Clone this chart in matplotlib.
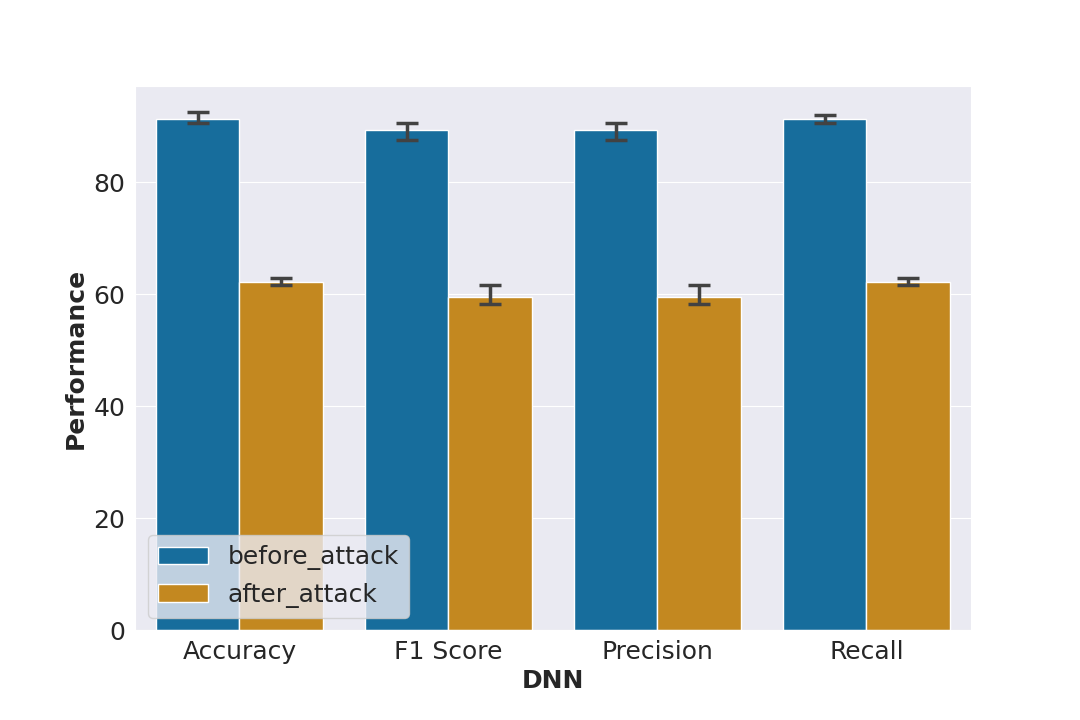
import numpy as np
import matplotlib
matplotlib.use("Agg")
import matplotlib.pyplot as plt
import seaborn as sns

metrics = ["Accuracy", "F1 Score", "Precision", "Recall"]
series = ["before_attack", "after_attack"]
before_mean = [91.36, 89.4, 89.4, 91.36]
before_low = [90.54, 87.5, 87.5, 90.54]
before_high = [92.5, 90.54, 90.54, 92.1]
after_mean = [62.25, 59.5, 59.5, 62.25]
after_low = [61.6, 58.2, 58.2, 61.6]
after_high = [62.86, 61.6, 61.6, 62.86]

sns.set_style("darkgrid")
plt.rcParams['font.family'] = ['DejaVu Sans']

base = sns.color_palette("colorblind")
colors = [sns.desaturate(base[0], 0.75), sns.desaturate(base[1], 0.75)]

fig = plt.figure(figsize=(10.8, 7.2), dpi=100)
ax = fig.add_axes([0.125, 0.125, 0.774, 0.755])

x = np.arange(len(metrics))
width = 0.4
data = [(before_mean, before_low, before_high), (after_mean, after_low, after_high)]
for i, (m, lo, hi) in enumerate(data):
    pos = x - 0.2 + i * width
    m = np.array(m); lo = np.array(lo); hi = np.array(hi)
    ax.bar(pos, m, width=width, color=colors[i], edgecolor="white", linewidth=1, label=series[i], zorder=2)
    ax.errorbar(pos, m, yerr=[m - lo, hi - m], fmt="none", ecolor="#424242",
                elinewidth=2.5, capsize=8, capthick=2.5, zorder=3)

ax.set_xlim(-0.5, 3.5)
ax.set_xticks(x)
ax.set_xticklabels(metrics)
ax.tick_params(labelsize=18)
ax.set_xlabel("DNN", fontsize=18, fontweight="bold")
ax.set_ylabel("Performance", fontsize=18, fontweight="bold")
ax.set_yticks([0, 20, 40, 60, 80])
ax.grid(axis="x", visible=False)
ax.legend(loc="lower left", fontsize=18)

fig.savefig("out.png", dpi=100)
